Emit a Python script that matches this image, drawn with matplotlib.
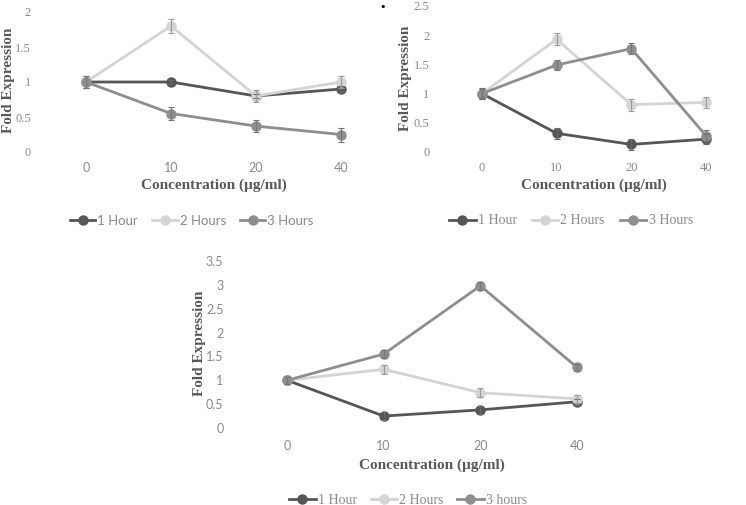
import matplotlib
matplotlib.use("Agg")
import matplotlib.pyplot as plt
import numpy as np

# ---------------- data ----------------
categories = ["0", "10", "20", "40"]

p1_labels = ["1 Hour", "2 Hours", "3 Hours"]
p1_1h = [1.0, 1.0, 0.80, 0.90]
p1_2h = [1.0, 1.80, 0.80, 1.00]
p1_3h = [1.0, 0.55, 0.37, 0.25]
p1_err_1h = [0.09, 0.03, 0.03, 0.04]
p1_err_2h = [0.09, 0.10, 0.09, 0.09]
p1_err_3h = [0.09, 0.09, 0.09, 0.10]
p1_yticks = [0, 0.5, 1, 1.5, 2]

p2_labels = ["1 Hour", "2 Hours", "3 Hours"]
p2_1h = [1.0, 0.32, 0.13, 0.22]
p2_2h = [1.0, 1.93, 0.81, 0.85]
p2_3h = [1.0, 1.49, 1.77, 0.28]
p2_err_1h = [0.08, 0.09, 0.09, 0.09]
p2_err_2h = [0.09, 0.10, 0.10, 0.10]
p2_err_3h = [0.09, 0.09, 0.09, 0.10]
p2_yticks = [0, 0.5, 1, 1.5, 2, 2.5]

p3_labels = ["1 Hour", "2 Hours", "3 hours"]
p3_1h = [1.0, 0.25, 0.38, 0.55]
p3_2h = [1.0, 1.23, 0.74, 0.61]
p3_3h = [1.0, 1.55, 2.98, 1.27]
p3_err_1h = [0.07, 0.09, 0.09, 0.06]
p3_err_2h = [0.07, 0.09, 0.09, 0.08]
p3_err_3h = [0.07, 0.08, 0.08, 0.08]
p3_yticks = [0, 0.5, 1, 1.5, 2, 2.5, 3, 3.5]

# ---------------- style ----------------
W, H = 746, 505
C1, C2, C3 = "#565656", "#d4d4d4", "#8e8e8e"
E1, E2, E3 = "#6a6a6a", "#9a9a9a", "#777777"
TICK_C = "#8a8a8a"
LAB_C = "#595959"
SERIF = ["Liberation Serif", "DejaVu Serif"]
SANS = ["Lato", "DejaVu Sans"]

fig = plt.figure(figsize=(W / 100, H / 100), dpi=100)


def px_axes(left, right, top, bottom):
    return fig.add_axes([left / W, 1 - bottom / H, (right - left) / W, (bottom - top) / H])


def fx(x):
    return x / W


def fy(y):
    return 1 - y / H


def panel(ax, series, errs, labels, yticks, ymax, yfont, xfont, legfont,
          xlab_xy, ylab_xy, leg_xy, ypad, xpad, colsp):
    x = np.arange(len(categories))
    handles = []
    for vals, err, col, ecol, lab in zip(series, errs, (C1, C2, C3), (E1, E2, E3), labels):
        h, = ax.plot(x, vals, color=col, lw=2.0, marker="o", markersize=6.5,
                     label=lab, zorder=3)
        ax.errorbar(x, vals, yerr=err, fmt="none", ecolor=ecol, elinewidth=0.8,
                    capsize=2.5, capthick=0.8, zorder=4)
        handles.append(h)
    ax.set_xlim(-0.5, len(categories) - 0.5)
    ax.set_ylim(0, ymax)
    ax.set_xticks(x)
    ax.set_xticklabels(categories)
    ax.set_yticks(yticks)
    ax.set_yticklabels([("%g" % t) for t in yticks])
    for s in ax.spines.values():
        s.set_visible(False)
    ax.tick_params(length=0, colors=TICK_C)
    ax.tick_params(axis="y", pad=ypad)
    ax.tick_params(axis="x", pad=xpad)
    for t in ax.get_yticklabels():
        t.set_fontfamily(yfont[0]); t.set_fontsize(yfont[1])
    for t in ax.get_xticklabels():
        t.set_fontfamily(xfont[0]); t.set_fontsize(xfont[1])
    ax.patch.set_alpha(0)
    fig.text(fx(xlab_xy[0]), fy(xlab_xy[1]), "Concentration (µg/ml)", ha="center",
             va="center", family=SERIF, weight="bold", fontsize=11, color=LAB_C)
    fig.text(fx(ylab_xy[0]), fy(ylab_xy[1]), "Fold Expression", ha="center",
             va="center", rotation=90, family=SERIF, weight="bold", fontsize=11,
             color=LAB_C)
    leg = fig.legend(handles=handles, loc="center",
                     bbox_to_anchor=(fx(leg_xy[0]), fy(leg_xy[1])), ncol=3,
                     frameon=False, handlelength=1.9, handletextpad=0.15,
                     columnspacing=colsp, prop={"family": legfont[0], "size": legfont[1]})
    for t in leg.get_texts():
        t.set_color(TICK_C)


# panel 1 (top-left)
ax1 = px_axes(43.5, 383.5, 12, 152)
panel(ax1, [p1_1h, p1_2h, p1_3h], [p1_err_1h, p1_err_2h, p1_err_3h], p1_labels,
      p1_yticks, 2.0, (SERIF, 9), (SANS, 9), (SANS, 9.5),
      (214, 185), (9, 80), (192, 221), 9, 7, 1.1)

# panel 2 (top-right)
ax2 = px_axes(444.6, 743.3, 6, 152)
panel(ax2, [p2_1h, p2_2h, p2_3h], [p2_err_1h, p2_err_2h, p2_err_3h], p2_labels,
      p2_yticks, 2.5, (SERIF, 9), (SERIF, 9), (SERIF, 10),
      (594, 185), (406, 78), (571, 221), 11, 7, 1.1)
fig.text(fx(383), fy(7), "•", ha="center", va="center", fontsize=8, color="black")

# panel 3 (bottom)
ax3 = px_axes(238.7, 625.4, 261, 428)
panel(ax3, [p3_1h, p3_2h, p3_3h], [p3_err_1h, p3_err_2h, p3_err_3h], p3_labels,
      p3_yticks, 3.5, (SANS, 9), (SANS, 9), (SERIF, 10),
      (432, 465), (200, 343), (408, 500), 11, 9, 1.0)

fig.savefig("out.png", dpi=100, facecolor="white")
